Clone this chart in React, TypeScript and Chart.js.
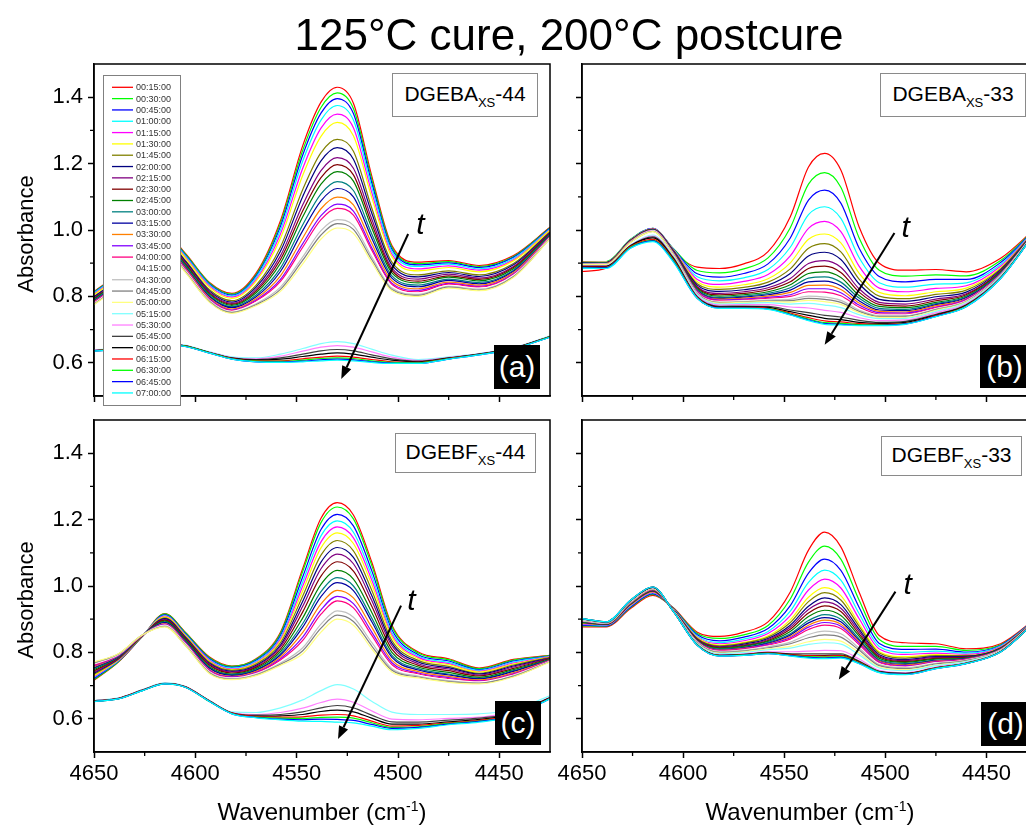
import React, { useEffect, useRef } from 'react';
import { Chart, registerables } from 'chart.js';

Chart.register(...registerables);

const FONT = '"Liberation Sans", Arial, Helvetica, sans-serif';

// ---------------- data ----------------
const WAVENUMBERS = [4650, 4638, 4626, 4615, 4605, 4593, 4582, 4570, 4558, 4547, 4538, 4530, 4522, 4513, 4503, 4490, 4475, 4460, 4443, 4425];

const TIMES = ['00:15:00', '00:30:00', '00:45:00', '01:00:00', '01:15:00', '01:30:00', '01:45:00', '02:00:00', '02:15:00', '02:30:00', '02:45:00', '03:00:00', '03:15:00', '03:30:00', '03:45:00', '04:00:00', '04:15:00', '04:30:00', '04:45:00', '05:00:00', '05:15:00', '05:30:00', '05:45:00', '06:00:00', '06:15:00', '06:30:00', '06:45:00', '07:00:00'];

const X_TICKS = [4650, 4600, 4550, 4500, 4450];
const X_MINOR = [4625, 4575, 4525, 4475];
const Y_TICKS = [0.6, 0.8, 1.0, 1.2, 1.4];
const Y_MINOR = [0.7, 0.9, 1.1, 1.3];

// (a) DGEBAxs-44
const a00 = [.815, .870, .950, .990, .930, .842, .809, .870, 1.028, 1.254, 1.385, 1.430, 1.382, 1.164, .953, .903, .908, .893, .923, 1.008];
const a01 = [.813, .868, .948, .988, .928, .840, .807, .866, 1.020, 1.240, 1.369, 1.413, 1.366, 1.154, .948, .899, .905, .890, .920, 1.007];
const a02 = [.812, .867, .947, .986, .925, .837, .804, .862, 1.011, 1.226, 1.352, 1.396, 1.351, 1.143, .942, .895, .901, .887, .918, 1.005];
const a03 = [.810, .865, .945, .984, .923, .834, .801, .857, 1.000, 1.208, 1.331, 1.375, 1.331, 1.130, .935, .890, .897, .883, .914, 1.003];
const a04 = [.807, .862, .942, .981, .919, .831, .798, .851, .988, 1.186, 1.307, 1.349, 1.308, 1.114, .927, .883, .892, .879, .910, 1.001];
const a05 = [.805, .860, .940, .978, .916, .827, .794, .846, .975, 1.165, 1.282, 1.324, 1.284, 1.099, .919, .877, .887, .874, .907, .999];
const a06 = [.800, .855, .935, .972, .909, .820, .787, .834, .949, 1.122, 1.233, 1.273, 1.237, 1.067, .903, .865, .877, .865, .899, .995];
const a07 = [.798, .853, .933, .969, .906, .816, .783, .828, .936, 1.101, 1.208, 1.248, 1.213, 1.052, .895, .859, .872, .860, .895, .993];
const a08 = [.795, .850, .930, .965, .902, .812, .779, .821, .922, 1.076, 1.179, 1.218, 1.186, 1.034, .885, .852, .867, .855, .890, .991];
const a09 = [.793, .848, .928, .963, .899, .809, .776, .816, .911, 1.058, 1.158, 1.197, 1.166, 1.020, .878, .846, .862, .851, .887, .989];
const a10 = [.791, .846, .926, .960, .896, .806, .773, .811, .900, 1.040, 1.138, 1.176, 1.147, 1.007, .871, .841, .858, .847, .883, .987];
const a11 = [.788, .843, .923, .957, .892, .802, .769, .804, .885, 1.016, 1.109, 1.146, 1.119, .989, .862, .834, .852, .842, .879, .985];
const a12 = [.786, .841, .921, .954, .889, .799, .766, .799, .875, .998, 1.088, 1.125, 1.100, .976, .855, .829, .848, .838, .876, .983];
const a13 = [.784, .839, .919, .951, .886, .795, .762, .794, .862, .976, 1.064, 1.099, 1.076, .960, .847, .823, .843, .834, .872, .981];
const a14 = [.782, .837, .917, .949, .883, .792, .759, .789, .851, .959, 1.043, 1.078, 1.057, .947, .840, .818, .839, .830, .868, .979];
const a15 = [.781, .836, .916, .947, .881, .790, .757, .786, .845, .948, 1.031, 1.065, 1.045, .940, .836, .814, .837, .828, .866, .978];
const a16 = [.779, .834, .914, .945, .879, .788, .755, .782, .836, .934, 1.014, 1.048, 1.029, .929, .831, .810, .833, .825, .864, .977];
const a17 = [.777, .832, .912, .943, .876, .786, .753, .778, .828, .919, .998, 1.031, 1.014, .919, .825, .806, .830, .822, .861, .975];
const a18 = [.776, .831, .911, .942, .875, .784, .751, .775, .821, .909, .985, 1.019, 1.002, .911, .821, .803, .828, .819, .859, .974];
const a19 = [.775, .830, .910, .940, .873, .782, .749, .772, .815, .898, .973, 1.006, .990, .903, .817, .800, .825, .817, .857, .973];
const a20 = [.639, .644, .654, .659, .653, .633, .618, .615, .626, .643, .658, .664, .658, .641, .623, .610, .618, .628, .646, .681];
const a21 = [.638, .643, .653, .658, .652, .632, .616, .612, .620, .635, .647, .652, .647, .633, .617, .607, .616, .627, .645, .680];
const a22 = [.637, .642, .652, .657, .651, .631, .615, .610, .615, .626, .636, .640, .636, .624, .612, .605, .615, .626, .644, .679];
const a23 = [.637, .642, .652, .657, .651, .631, .614, .608, .611, .619, .626, .630, .626, .617, .608, .603, .614, .626, .644, .679];
const a24 = [.636, .641, .651, .656, .650, .630, .613, .606, .606, .612, .617, .620, .617, .610, .603, .601, .613, .625, .643, .678];
const a25 = [.636, .641, .651, .656, .650, .630, .612, .605, .604, .608, .613, .615, .613, .606, .601, .600, .612, .625, .643, .678];
const a26 = [.635, .640, .650, .655, .649, .629, .611, .603, .602, .605, .609, .611, .609, .603, .599, .598, .611, .624, .642, .677];
const a27 = [.635, .640, .650, .655, .649, .629, .611, .603, .601, .603, .606, .608, .606, .601, .598, .598, .611, .624, .642, .677];

// (b) DGEBAxs-33
const b00 = [.875, .885, .965, 1.000, .935, .888, .884, .898, .935, 1.040, 1.190, 1.231, 1.181, 1.010, .900, .879, .881, .874, .915, 1.010];
const b01 = [.905, .905, .972, 1.005, .945, .878, .871, .883, .916, 1.007, 1.138, 1.173, 1.129, .977, .879, .861, .865, .862, .908, 1.009];
const b02 = [.905, .904, .971, 1.005, .944, .868, .858, .869, .898, .976, 1.090, 1.120, 1.081, .946, .860, .844, .851, .851, .902, 1.008];
const b03 = [.904, .904, .971, 1.004, .943, .859, .847, .856, .881, .948, 1.046, 1.070, 1.035, .917, .841, .828, .837, .841, .896, 1.007];
const b04 = [.904, .903, .970, 1.004, .942, .851, .836, .845, .866, .922, 1.005, 1.026, .995, .891, .825, .814, .824, .832, .891, 1.006];
const b05 = [.903, .903, .970, 1.003, .941, .844, .828, .835, .853, .901, .972, .988, .961, .870, .812, .802, .814, .825, .886, 1.005];
const b06 = [.903, .902, .969, 1.003, .940, .838, .821, .827, .843, .883, .945, .959, .934, .852, .801, .793, .806, .819, .883, 1.005];
const b07 = [.902, .902, .969, 1.002, .939, .834, .815, .820, .834, .869, .922, .933, .911, .838, .791, .785, .799, .813, .880, 1.004];
const b08 = [.902, .901, .968, 1.002, .938, .829, .809, .814, .826, .854, .899, .908, .888, .823, .782, .777, .792, .808, .877, 1.004];
const b09 = [.901, .901, .968, 1.001, .937, .826, .805, .809, .820, .844, .884, .891, .872, .813, .776, .771, .787, .805, .875, 1.003];
const b10 = [.901, .900, .967, 1.001, .936, .823, .801, .805, .814, .835, .869, .874, .857, .803, .770, .766, .782, .801, .873, 1.003];
const b11 = [.900, .900, .967, 1.000, .935, .820, .797, .801, .809, .826, .855, .859, .843, .795, .764, .761, .778, .798, .871, 1.003];
const b12 = [.900, .899, .966, 1.000, .934, .818, .794, .798, .805, .819, .844, .846, .832, .787, .759, .757, .775, .796, .869, 1.003];
const b13 = [.899, .899, .966, .999, .933, .816, .792, .795, .801, .812, .833, .834, .821, .780, .755, .753, .772, .793, .868, 1.002];
const b14 = [.899, .898, .965, .999, .932, .814, .789, .792, .797, .805, .823, .823, .811, .774, .751, .750, .768, .791, .867, 1.002];
const b15 = [.898, .898, .965, .998, .931, .812, .787, .789, .794, .800, .814, .813, .802, .768, .747, .747, .766, .789, .866, 1.002];
const b16 = [.898, .897, .964, .998, .930, .810, .785, .787, .791, .795, .807, .805, .794, .763, .744, .744, .763, .787, .865, 1.002];
const b17 = [.897, .897, .964, .997, .929, .809, .783, .785, .789, .791, .801, .798, .788, .759, .742, .742, .762, .786, .864, 1.002];
const b18 = [.897, .896, .963, .996, .928, .808, .781, .783, .786, .787, .794, .791, .782, .755, .739, .740, .760, .784, .863, 1.001];
const b19 = [.896, .896, .962, .995, .927, .806, .780, .782, .784, .783, .788, .784, .776, .751, .737, .737, .758, .783, .862, 1.001];
const b20 = [.893, .893, .955, .985, .922, .805, .777, .779, .781, .777, .779, .774, .766, .745, .733, .734, .755, .781, .861, 1.001];
const b21 = [.892, .892, .954, .982, .920, .802, .774, .775, .775, .768, .765, .758, .752, .736, .727, .729, .751, .778, .859, 1.001];
const b22 = [.891, .891, .953, .979, .918, .799, .770, .771, .770, .759, .751, .743, .738, .728, .722, .725, .746, .775, .857, 1.001];
const b23 = [.890, .890, .952, .976, .915, .797, .768, .769, .767, .754, .743, .734, .730, .722, .719, .722, .744, .773, .856, 1.000];
const b24 = [.888, .888, .950, .972, .912, .796, .766, .767, .764, .750, .736, .726, .723, .718, .716, .719, .742, .771, .855, 1.000];
const b25 = [.887, .887, .948, .969, .910, .795, .765, .765, .763, .747, .732, .721, .719, .715, .714, .718, .740, .770, .855, 1.000];
const b26 = [.886, .886, .946, .967, .907, .794, .765, .765, .762, .745, .729, .718, .716, .713, .713, .717, .740, .769, .854, 1.000];
const b27 = [.885, .884, .945, .965, .905, .794, .764, .764, .761, .744, .727, .716, .714, .712, .712, .716, .739, .769, .854, 1.000];

// (c) DGEBFxs-44
const c00 = [.716, .771, .849, .917, .861, .786, .759, .781, .861, 1.053, 1.204, 1.251, 1.214, 1.073, .882, .801, .781, .753, .779, .791];
const c01 = [.718, .772, .849, .916, .860, .784, .758, .779, .857, 1.044, 1.191, 1.238, 1.202, 1.063, .877, .798, .778, .751, .777, .790];
const c02 = [.721, .774, .849, .913, .857, .781, .755, .776, .851, 1.028, 1.170, 1.216, 1.181, 1.047, .868, .793, .774, .748, .774, .789];
const c03 = [.725, .775, .850, .911, .855, .778, .753, .773, .845, 1.013, 1.151, 1.196, 1.162, 1.032, .860, .789, .770, .746, .771, .788];
const c04 = [.727, .776, .850, .909, .853, .776, .750, .770, .840, 1.000, 1.133, 1.178, 1.145, 1.019, .853, .785, .766, .743, .768, .787];
const c05 = [.730, .778, .850, .907, .851, .773, .748, .768, .835, .986, 1.115, 1.160, 1.128, 1.005, .846, .781, .763, .741, .765, .786];
const c06 = [.734, .779, .850, .904, .848, .770, .746, .765, .829, .970, 1.093, 1.137, 1.106, .988, .836, .776, .758, .737, .762, .785];
const c07 = [.737, .781, .851, .902, .846, .767, .743, .761, .822, .954, 1.072, 1.116, 1.086, .972, .828, .771, .754, .735, .759, .783];
const c08 = [.740, .782, .851, .899, .843, .764, .741, .758, .817, .939, 1.052, 1.096, 1.067, .957, .820, .766, .750, .732, .756, .782];
const c09 = [.744, .784, .851, .897, .841, .761, .738, .755, .810, .922, 1.030, 1.073, 1.045, .940, .810, .761, .745, .729, .752, .781];
const c10 = [.748, .786, .851, .894, .838, .757, .735, .751, .803, .904, 1.005, 1.047, 1.021, .921, .800, .756, .740, .725, .748, .779];
const c11 = [.752, .787, .852, .891, .835, .754, .733, .748, .797, .887, .983, 1.025, 1.000, .904, .791, .751, .735, .722, .745, .778];
const c12 = [.754, .788, .852, .890, .834, .752, .731, .746, .792, .876, .968, 1.010, .986, .893, .785, .747, .732, .720, .743, .777];
const c13 = [.757, .790, .852, .887, .831, .748, .728, .743, .786, .860, .946, .987, .964, .876, .776, .742, .728, .717, .739, .776];
const c14 = [.760, .791, .852, .885, .829, .746, .726, .740, .781, .846, .928, .969, .947, .862, .769, .738, .724, .714, .736, .775];
const c15 = [.762, .792, .852, .883, .827, .744, .724, .738, .777, .836, .915, .955, .934, .852, .763, .735, .721, .713, .734, .774];
const c16 = [.765, .793, .853, .882, .826, .742, .723, .736, .772, .825, .900, .940, .920, .841, .757, .732, .718, .711, .732, .773];
const c17 = [.767, .794, .853, .880, .824, .740, .721, .734, .768, .814, .885, .925, .906, .830, .751, .729, .715, .708, .730, .772];
const c18 = [.769, .795, .853, .878, .822, .738, .719, .732, .764, .805, .873, .912, .893, .820, .746, .726, .712, .707, .728, .772];
const c19 = [.771, .796, .853, .877, .821, .736, .718, .730, .761, .796, .861, .900, .882, .811, .741, .723, .710, .705, .726, .771];
const c20 = [.655, .663, .688, .708, .698, .655, .621, .619, .633, .657, .685, .703, .690, .653, .620, .613, .613, .615, .628, .669];
const c21 = [.654, .662, .687, .707, .697, .654, .619, .613, .619, .632, .649, .659, .650, .624, .599, .597, .601, .605, .620, .665];
const c22 = [.654, .662, .687, .707, .697, .654, .618, .611, .613, .621, .633, .640, .633, .611, .591, .590, .596, .602, .617, .664];
const c23 = [.653, .661, .686, .706, .696, .653, .617, .608, .609, .613, .622, .626, .621, .602, .584, .584, .591, .598, .614, .663];
const c24 = [.653, .661, .686, .706, .696, .653, .617, .607, .605, .606, .611, .613, .609, .593, .578, .580, .588, .595, .612, .662];
const c25 = [.652, .660, .685, .705, .695, .652, .616, .605, .602, .601, .604, .605, .602, .588, .574, .576, .586, .593, .610, .661];
const c26 = [.652, .660, .685, .705, .695, .652, .615, .604, .599, .597, .599, .598, .595, .583, .571, .574, .584, .592, .609, .660];
const c27 = [.652, .660, .685, .705, .695, .652, .615, .603, .597, .593, .592, .590, .588, .578, .567, .571, .582, .590, .608, .660];

// (d) DGEBFxs-33
const d00 = [.877, .877, .932, .972, .935, .861, .848, .861, .892, .982, 1.108, 1.162, 1.118, .982, .851, .829, .826, .811, .826, .905];
const d01 = [.880, .879, .935, .975, .934, .857, .842, .853, .881, .961, 1.072, 1.120, 1.081, .958, .839, .818, .818, .806, .823, .904];
const d02 = [.882, .880, .937, .977, .933, .853, .835, .846, .872, .941, 1.039, 1.081, 1.047, .936, .827, .809, .810, .801, .821, .904];
const d03 = [.885, .882, .940, .980, .932, .849, .830, .840, .863, .924, 1.011, 1.048, 1.018, .917, .818, .800, .804, .798, .819, .903];
const d04 = [.886, .883, .941, .981, .931, .846, .826, .835, .857, .911, .988, 1.021, .994, .902, .810, .794, .798, .794, .817, .902];
const d05 = [.888, .884, .943, .983, .931, .844, .822, .830, .850, .898, .966, .995, .971, .887, .802, .787, .793, .791, .815, .902];
const d06 = [.889, .884, .944, .984, .930, .842, .820, .828, .846, .890, .953, .980, .958, .879, .798, .783, .790, .790, .814, .902];
const d07 = [.890, .885, .945, .985, .930, .840, .817, .825, .842, .882, .939, .964, .944, .870, .793, .779, .787, .788, .813, .901];
const d08 = [.891, .885, .946, .986, .929, .839, .816, .822, .839, .876, .929, .952, .933, .863, .789, .776, .785, .786, .812, .901];
const d09 = [.892, .886, .947, .987, .929, .838, .814, .820, .836, .870, .919, .940, .923, .856, .786, .773, .782, .785, .811, .901];
const d10 = [.892, .886, .947, .987, .929, .836, .812, .818, .833, .863, .908, .927, .911, .849, .782, .770, .780, .783, .811, .901];
const d11 = [.893, .887, .948, .988, .929, .835, .810, .815, .830, .856, .896, .914, .900, .841, .778, .767, .777, .782, .810, .900];
const d12 = [.894, .887, .949, .989, .928, .834, .808, .814, .827, .852, .889, .905, .892, .836, .775, .764, .775, .781, .809, .900];
const d13 = [.894, .887, .949, .989, .928, .833, .807, .812, .825, .848, .882, .897, .885, .832, .773, .762, .774, .780, .809, .900];
const d14 = [.895, .888, .950, .990, .928, .832, .806, .811, .824, .844, .876, .890, .879, .828, .771, .760, .772, .779, .808, .900];
const d15 = [.895, .888, .950, .990, .928, .832, .805, .810, .821, .840, .869, .882, .872, .823, .769, .758, .771, .778, .808, .900];
const d16 = [.896, .888, .951, .991, .927, .831, .803, .808, .819, .835, .861, .872, .863, .818, .766, .756, .769, .777, .807, .900];
const d17 = [.897, .889, .952, .992, .927, .830, .802, .806, .817, .831, .854, .864, .856, .813, .763, .754, .767, .776, .806, .900];
const d18 = [.897, .889, .952, .992, .927, .829, .800, .804, .814, .826, .844, .853, .846, .807, .760, .751, .765, .775, .806, .899];
const d19 = [.898, .890, .953, .993, .927, .827, .798, .802, .811, .818, .832, .839, .834, .799, .756, .748, .762, .773, .805, .899];
const d20 = [.899, .890, .954, .994, .926, .826, .796, .800, .808, .813, .824, .829, .825, .793, .753, .745, .760, .772, .804, .899];
const d21 = [.900, .891, .955, .995, .926, .824, .793, .796, .802, .802, .804, .806, .805, .780, .746, .739, .756, .769, .803, .899];
const d22 = [.901, .891, .956, .996, .925, .823, .791, .794, .800, .796, .796, .796, .796, .774, .743, .737, .754, .768, .802, .898];
const d23 = [.901, .892, .956, .996, .925, .822, .791, .793, .799, .794, .791, .791, .792, .772, .742, .736, .753, .767, .802, .898];
const d24 = [.902, .892, .957, .997, .925, .822, .790, .792, .798, .793, .790, .789, .790, .770, .741, .735, .753, .767, .802, .898];
const d25 = [.902, .892, .957, .997, .925, .822, .790, .792, .797, .791, .787, .786, .787, .769, .741, .734, .752, .767, .801, .898];
const d26 = [.902, .892, .957, .997, .925, .821, .789, .791, .796, .790, .785, .783, .785, .767, .740, .734, .751, .766, .801, .898];
const d27 = [.902, .892, .957, .997, .925, .821, .789, .791, .796, .789, .783, .781, .783, .766, .739, .733, .751, .766, .801, .898];

const SERIES_A = [a00, a01, a02, a03, a04, a05, a06, a07, a08, a09, a10, a11, a12, a13, a14, a15, a16, a17, a18, a19, a20, a21, a22, a23, a24, a25, a26, a27];
const SERIES_B = [b00, b01, b02, b03, b04, b05, b06, b07, b08, b09, b10, b11, b12, b13, b14, b15, b16, b17, b18, b19, b20, b21, b22, b23, b24, b25, b26, b27];
const SERIES_C = [c00, c01, c02, c03, c04, c05, c06, c07, c08, c09, c10, c11, c12, c13, c14, c15, c16, c17, c18, c19, c20, c21, c22, c23, c24, c25, c26, c27];
const SERIES_D = [d00, d01, d02, d03, d04, d05, d06, d07, d08, d09, d10, d11, d12, d13, d14, d15, d16, d17, d18, d19, d20, d21, d22, d23, d24, d25, d26, d27];

// ---------------- styles ----------------
const COLORS = ['#FF0000', '#00FF00', '#0000FF', '#00FFFF', '#FF00FF', '#FFFF00', '#808000', '#000080', '#800080', '#800000', '#008000', '#008080', '#0000A0', '#FF8000', '#8000FF', '#FF0080', '#FFFFFF', '#C0C0C0', '#808080', '#FFFF80', '#80FFFF', '#FF80FF', '#404040', '#000000', '#FF0000', '#00FF00', '#0000FF', '#00FFFF'];

const CW = 1040;
const CH = 828;

const PANELS = [
  { key: 'a', series: SERIES_A, padLeft: 0, padRight: 490, top: 64, bottom: 396, showX: false, showY: true, legend: true, arrowFrom: [4495, 0.988], arrowTo: [4528, 0.551], tAt: [4489, 1.012] },
  { key: 'b', series: SERIES_B, padLeft: 488, padRight: 3, top: 64, bottom: 396, showX: false, showY: false, legend: false, arrowFrom: [4495.5, 0.991], arrowTo: [4530, 0.654], tAt: [4490, 1.003] },
  { key: 'c', series: SERIES_C, padLeft: 0, padRight: 490, top: 420, bottom: 752, showX: true, showY: true, legend: false, arrowFrom: [4498.5, 0.941], arrowTo: [4529.6, 0.539], tAt: [4493.4, 0.953] },
  { key: 'd', series: SERIES_D, padLeft: 488, padRight: 3, top: 420, bottom: 752, showX: true, showY: false, legend: false, arrowFrom: [4495, 0.983], arrowTo: [4523, 0.718], tAt: [4489, 1.0] },
];

const decorPlugin = {
  id: 'decor',
  afterDraw(chart: any, _args: any, opts: any) {
    const { ctx, chartArea: ca, scales } = chart;
    const x = scales.x;
    const y = scales.y;
    ctx.save();
    // frame
    ctx.strokeStyle = '#000';
    ctx.lineWidth = 1.5;
    ctx.strokeRect(ca.left, ca.top, ca.right - ca.left, ca.bottom - ca.top);
    // minor ticks
    ctx.lineWidth = 1.3;
    ctx.beginPath();
    X_MINOR.forEach((v) => {
      const px = x.getPixelForValue(v);
      ctx.moveTo(px, ca.bottom);
      ctx.lineTo(px, ca.bottom + 4);
    });
    Y_MINOR.forEach((v) => {
      const py = y.getPixelForValue(v);
      ctx.moveTo(ca.left, py);
      ctx.lineTo(ca.left - 4, py);
    });
    ctx.stroke();
    // arrow
    const x1 = x.getPixelForValue(opts.arrowFrom[0]);
    const y1 = y.getPixelForValue(opts.arrowFrom[1]);
    const x2 = x.getPixelForValue(opts.arrowTo[0]);
    const y2 = y.getPixelForValue(opts.arrowTo[1]);
    const ang = Math.atan2(y2 - y1, x2 - x1);
    const hl = 13;
    const hw = 5;
    const bx = x2 - hl * Math.cos(ang);
    const by = y2 - hl * Math.sin(ang);
    ctx.strokeStyle = '#000';
    ctx.lineWidth = 2;
    ctx.beginPath();
    ctx.moveTo(x1, y1);
    ctx.lineTo(bx, by);
    ctx.stroke();
    ctx.fillStyle = '#000';
    ctx.beginPath();
    ctx.moveTo(x2, y2);
    ctx.lineTo(bx + hw * Math.sin(ang), by - hw * Math.cos(ang));
    ctx.lineTo(bx - hw * Math.sin(ang), by + hw * Math.cos(ang));
    ctx.closePath();
    ctx.fill();
    // t label
    ctx.font = `italic 30px ${FONT}`;
    ctx.textAlign = 'center';
    ctx.textBaseline = 'middle';
    ctx.fillText('t', x.getPixelForValue(opts.tAt[0]), y.getPixelForValue(opts.tAt[1]));
    // legend
    if (opts.legend) {
      const lx = 103;
      const ly = 75;
      const lw = 77;
      const lh = 330;
      ctx.fillStyle = '#fff';
      ctx.fillRect(lx, ly, lw, lh);
      ctx.strokeStyle = '#808080';
      ctx.lineWidth = 1;
      ctx.strokeRect(lx + 0.5, ly + 0.5, lw, lh);
      ctx.font = `9px ${FONT}`;
      ctx.textAlign = 'left';
      ctx.textBaseline = 'middle';
      chart.data.datasets.forEach((ds: any, k: number) => {
        const yy = 87.3 + k * 11.32;
        ctx.strokeStyle = ds.borderColor;
        ctx.lineWidth = 1.3;
        ctx.beginPath();
        ctx.moveTo(112, yy);
        ctx.lineTo(133, yy);
        ctx.stroke();
        ctx.fillStyle = '#333';
        ctx.fillText(ds.label, 136, yy + 0.5);
      });
    }
    ctx.restore();
  },
};

function buildConfig(p: any): any {
  const datasets = p.series.map((vals: number[], i: number) => ({
    label: TIMES[i],
    data: WAVENUMBERS.map((w, j) => ({ x: w, y: vals[j] })),
    borderColor: COLORS[i],
    backgroundColor: COLORS[i],
    borderWidth: 1.2,
    pointRadius: 0,
    fill: false,
    cubicInterpolationMode: 'monotone',
    order: 27 - i,
  }));
  const tickFont = { family: FONT, size: 22 };
  const grid = { display: true, drawOnChartArea: false, drawTicks: true, tickLength: 6, tickWidth: 1.5, tickColor: '#000', color: '#000' };
  const border = { display: true, color: '#000', width: 1.5 };
  return {
    type: 'line',
    data: { datasets },
    plugins: [decorPlugin],
    options: {
      responsive: false,
      animation: false,
      devicePixelRatio: 1,
      events: [],
      layout: { padding: { left: p.padLeft, right: p.padRight, top: p.top, bottom: 0 } },
      plugins: {
        legend: { display: false },
        tooltip: { enabled: false },
        title: { display: false },
        decor: { arrowFrom: p.arrowFrom, arrowTo: p.arrowTo, tAt: p.tAt, legend: p.legend },
      },
      scales: {
        x: {
          type: 'linear',
          min: 4425,
          max: 4650,
          reverse: true,
          afterBuildTicks: (s: any) => { s.ticks = X_TICKS.map((v) => ({ value: v })); },
          afterFit: (s: any) => { s.height = CH - p.bottom; },
          ticks: { display: p.showX, callback: (v: any) => String(v), font: tickFont, color: '#000', padding: 3, maxRotation: 0, autoSkip: false },
          grid,
          border,
        },
        y: {
          type: 'linear',
          min: 0.5,
          max: 1.5,
          afterBuildTicks: (s: any) => { s.ticks = Y_TICKS.map((v) => ({ value: v })); },
          afterFit: (s: any) => { s.width = 94; },
          ticks: { display: p.showY, callback: (v: any) => Number(v).toFixed(1), font: tickFont, color: '#000', padding: 5, autoSkip: false },
          grid,
          border,
        },
      },
    },
  };
}

function PanelCanvas({ p }: { p: any }) {
  const ref = useRef<HTMLCanvasElement | null>(null);
  useEffect(() => {
    if (!ref.current) return;
    const chart = new Chart(ref.current, buildConfig(p));
    return () => chart.destroy();
  }, [p]);
  return (
    <canvas
      ref={ref}
      width={CW}
      height={CH}
      style={{ position: 'absolute', left: 0, top: 0, width: CW, height: CH }}
    />
  );
}

const NAME_BOXES = [
  { base: 'DGEBA', tail: '-44', left: 392, top: 73, w: 146, h: 44 },
  { base: 'DGEBA', tail: '-33', left: 880, top: 73, w: 146, h: 44 },
  { base: 'DGEBF', tail: '-44', left: 395, top: 433, w: 141, h: 40 },
  { base: 'DGEBF', tail: '-33', left: 881, top: 436, w: 141, h: 40 },
];

const TAG_BOXES = [
  { text: '(a)', left: 494, top: 345, w: 46, h: 44 },
  { text: '(b)', left: 980, top: 345, w: 49, h: 43 },
  { text: '(c)', left: 495, top: 701, w: 46, h: 44 },
  { text: '(d)', left: 981, top: 702, w: 49, h: 44 },
];

export default function App() {
  return (
    <div style={{ position: 'fixed', left: 0, top: 0, width: 1026, height: 828, overflow: 'hidden', background: '#fff', fontFamily: FONT, color: '#000' }}>
      {PANELS.map((p) => (
        <PanelCanvas key={p.key} p={p} />
      ))}
      <div style={{ position: 'absolute', left: 0, top: 13, width: 1138, textAlign: 'center', fontSize: 44, lineHeight: '44px', whiteSpace: 'nowrap' }}>
        125°C cure, 200°C postcure
      </div>
      {[234, 600].map((cy) => (
        <div key={cy} style={{ position: 'absolute', left: 26, top: cy, transform: 'translate(-50%, -50%) rotate(-90deg)', fontSize: 22, lineHeight: '22px', whiteSpace: 'nowrap' }}>
          Absorbance
        </div>
      ))}
      {[322, 810].map((cx) => (
        <div key={cx} style={{ position: 'absolute', left: cx, top: 813, transform: 'translate(-50%, -50%)', fontSize: 24, lineHeight: '24px', whiteSpace: 'nowrap' }}>
          Wavenumber (cm<span style={{ fontSize: 14, position: 'relative', top: -9 }}>-1</span>)
        </div>
      ))}
      {NAME_BOXES.map((b, i) => (
        <div key={i} style={{ position: 'absolute', left: b.left, top: b.top, width: b.w, height: b.h, boxSizing: 'border-box', border: '1.5px solid #8a8a8a', background: '#fff', display: 'flex', alignItems: 'center', justifyContent: 'center', fontSize: 21, lineHeight: '21px', whiteSpace: 'nowrap' }}>
          <span>
            {b.base}
            <span style={{ fontSize: 13, position: 'relative', top: 6 }}>XS</span>
            {b.tail}
          </span>
        </div>
      ))}
      {TAG_BOXES.map((t, i) => (
        <div key={i} style={{ position: 'absolute', left: t.left, top: t.top, width: t.w, height: t.h, background: '#000', color: '#fff', display: 'flex', alignItems: 'center', justifyContent: 'center', fontSize: 30, lineHeight: '30px', whiteSpace: 'nowrap' }}>
          {t.text}
        </div>
      ))}
    </div>
  );
}
